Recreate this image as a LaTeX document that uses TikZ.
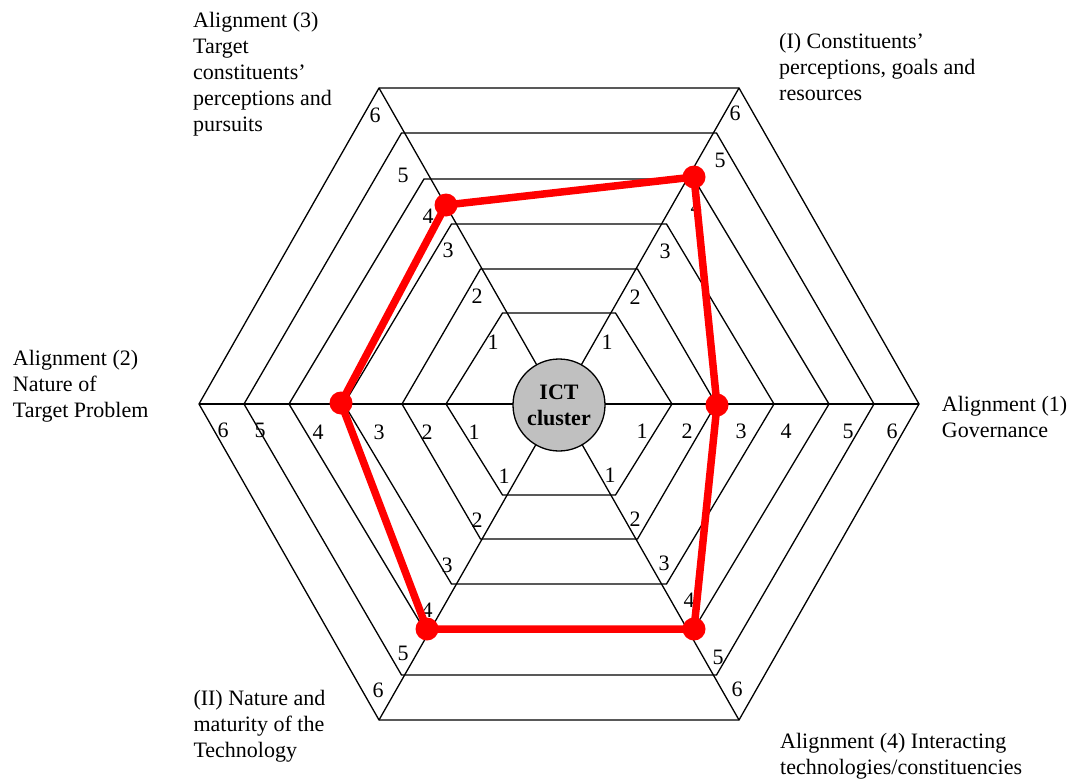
\documentclass[tikz,border=0pt]{standalone}
\usepackage{fontspec}
\setmainfont{Liberation Serif}
\definecolor{hubgray}{HTML}{C0C0C0}
\begin{document}
\begin{tikzpicture}[x=1pt,y=-1pt,
  ring/.style={draw=black,line width=1.3pt,line join=miter},
  spoke/.style={draw=black,line width=1.3pt},
  scalelabel/.style={font=\fontsize{22}{26}\selectfont,inner sep=0pt,anchor=center},
  axislabel/.style={font=\fontsize{22}{26}\selectfont,inner sep=0pt,align=left,anchor=north west},
  profile/.style={draw=red,line width=7.5pt,line join=round},
  score/.style={circle,fill=red,inner sep=0pt,minimum size=23pt},
  hub/.style={circle,draw=black,line width=1.3pt,fill=hubgray,minimum size=92pt,inner sep=0pt,
    font=\bfseries\fontsize{22}{26}\selectfont,align=center}
]
\useasboundingbox (0,0) rectangle (1077,779);

% centre of the web
\coordinate (c) at (559,404);

% six concentric hexagonal rings (half width / half height)
\foreach \w/\h in {113/91,157/135,215/180,270/225,315/271,360/316}
  \draw[ring] (559+\w,404) -- (559+\w/2,404-\h) -- (559-\w/2,404-\h)
    -- (559-\w,404) -- (559-\w/2,404+\h) -- (559+\w/2,404+\h) -- cycle;

% spokes from the outer ring corners to the hub
\coordinate (v1) at (919,404);
\coordinate (v2) at (739,88);
\coordinate (v3) at (379,88);
\coordinate (v4) at (199,404);
\coordinate (v5) at (379,720);
\coordinate (v6) at (739,720);
\foreach \v in {v1,v2,v3,v4,v5,v6}
  \draw[spoke] (\v) -- (c);

% hub
\node[hub] (hub) at (559,405) {ICT\\cluster};

% scale numbers along each spoke
\foreach \x/\y/\n [count=\k] in {
  642/431/1,687/431/2,741/431/3,786/431/4,848/431/5,892/431/6,
  474/432/1,427/432/2,379/432/3,318/432/4,260/430/5,223/430/6,
  607/342/1,635/297/2,665/251/3,696/207/4,720/160/5,735/113/6,
  493/342/1,477/296/2,448/250/3,428/216/4,403/175/5,375/115/6,
  504/476/1,477/520/2,447/565/3,427/610/4,403/653/5,378/690/6,
  610/475/1,635/519/2,664/563/3,689/600/4,718/657/5,737/689/6}
  \node[scalelabel] (num\k) at (\x,\y) {\n};

% axis captions
\node[axislabel] (capTL) at (193,11.8) {Alignment (3)\\Target\\constituents’\\perceptions and\\pursuits};
\node[axislabel] (capTR) at (779,33) {(I) Constituents’\\perceptions, goals and\\resources};
\node[axislabel] (capL) at (12.7,350) {Alignment (2)\\Nature of\\Target Problem};
\node[axislabel] (capR) at (941.7,396) {Alignment (1)\\Governance};
\node[axislabel] (capBL) at (193.3,690) {(II) Nature and\\maturity of the\\Technology};
\node[axislabel] (capBR) at (780,733) {Alignment (4) Interacting\\technologies/constituencies};

% assessed profile
\coordinate (s1) at (717,405);
\coordinate (s2) at (694,177);
\coordinate (s3) at (446,205);
\coordinate (s4) at (341,403);
\coordinate (s5) at (427,629);
\coordinate (s6) at (694,629);
\draw[profile] (s1) -- (s2) -- (s3) -- (s4) -- (s5) -- (s6) -- cycle;
\foreach \s in {s1,s2,s3,s4,s5,s6}
  \node[score] (dot-\s) at (\s) {};
\end{tikzpicture}
\end{document}
